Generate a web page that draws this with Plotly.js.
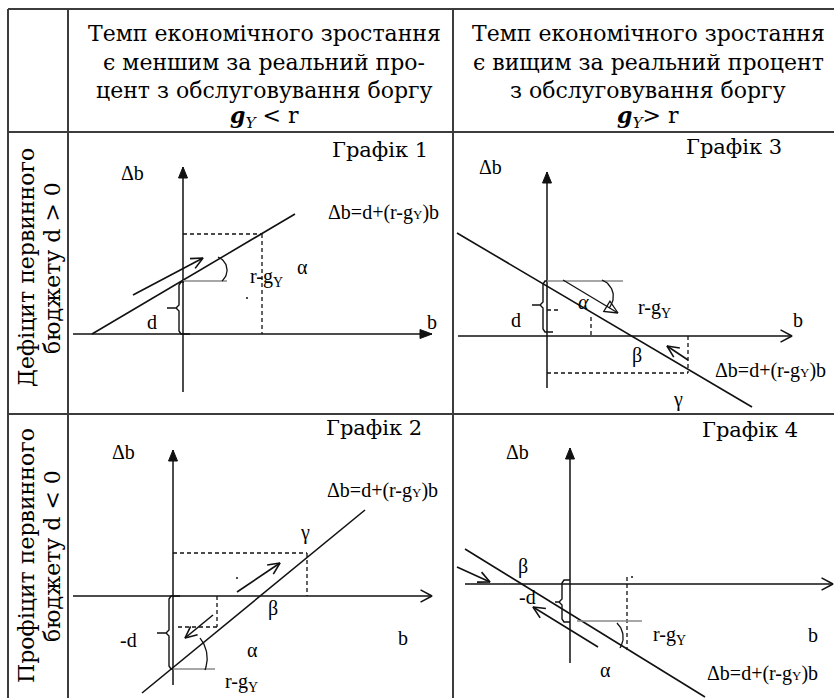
<!DOCTYPE html>
<html>
<head>
<meta charset="utf-8">
<script src="https://cdn.plot.ly/plotly-3.0.1.min.js"></script>
<style>
  html, body { margin: 0; padding: 0; background: #fff; }
  #chart { width: 834px; height: 698px; }
</style>
</head>
<body>
<div id="chart"></div>
<script>
// ---- Table grid ----
const tableRowsY = [9, 132, 414];
const tableColsX = [8, 68, 453];
const pageW = 834, pageH = 698;

// ---- Header text ----
const headerColX = [264, 648];
const headerLineY = [33, 62, 90, 117];
const headerSlow = [
  "Темп економічного зростання",
  "є меншим за реальний про-",
  "цент з обслуговування боргу",
  "<b><i>g</i></b><sub><i>Y</i></sub> &lt; r"
];
const headerFast = [
  "Темп економічного зростання",
  "є вищим за реальний процент",
  "з обслуговування боргу",
  "<b><i>g</i></b><sub><i>Y</i></sub>&gt; r"
];

// ---- Row captions (rotated, one entry per printed line) ----
const rowCaptionLines = ["Дефіцит первинного", "бюджету d &gt; 0", "Профіцит первинного", "бюджету d &lt; 0"];
const rowCaptionX = [26, 52, 26, 52];
const rowCaptionY = [268, 268, 556, 556];

// ---- Graph titles ----
const graphTitles = ["Графік 1", "Графік 3", "Графік 2", "Графік 4"];
const graphTitleX = [380, 734, 374, 750];
const graphTitleY = [150, 147, 428, 430];

// ---- Axes of the four graphs: [x0, y0, x1(tip), y1(tip)] ----
const axesVertical = [[183, 392, 183, 167], [547, 388, 547, 172], [173, 685, 173, 450], [570, 663, 570, 448]];
const axesHorizontal = [[73, 334, 432, 334], [458, 336, 792, 336], [73, 596, 432, 596], [465, 584, 833, 584]];
const horizontalHead = ["filled", "open", "open", "open"];

// ---- Δb = d + (r - gY) b lines ----
const debtLines = [[92, 334, 295, 214], [457, 233, 752, 407], [142, 693, 365, 510], [465, 549, 705, 697]];

// ---- Dashed guides ----
const dashedGuides = [
  [183, 234, 262, 234], [262, 234, 262, 334],
  [547, 310, 560, 310], [591, 317, 591, 336], [688, 336, 688, 373], [547, 373, 688, 373],
  [173, 553, 307, 553], [307, 553, 307, 596], [178, 627, 217, 627], [217, 596, 217, 627],
  [627, 577, 627, 650]
];

// ---- Grey horizontals at the intercept ----
const interceptRules = [[183, 281, 227, 281], [547, 281, 623, 281], [173, 669, 215, 669], [577, 621, 642, 621]];

// ---- Motion arrows: [tailX, tailY, tipX, tipY] ----
const motionArrows = [
  [133, 295, 203, 258],
  [688, 360, 667, 346],
  [237, 592, 280, 563], [213, 615, 185, 638],
  [457, 567, 490, 582], [598, 647, 533, 607]
];
const hollowArrows = [[563, 280, 618, 313]];

// ---- Angle arcs (three points on each arc) ----
const angleArcs = [
  [[218, 257], [227, 269], [222, 281]],
  [[602, 280], [613, 293], [609, 308]],
  [[200, 638], [207, 655], [205, 670]],
  [[617, 623], [623, 635], [620, 648]]
];

// ---- Braces: [x, yTop, yBottom, yTip, xTip, xTopEnd, xBottomEnd] ----
const braces = [
  [179, 282, 334, 308, 167, 184, 190],
  [543, 281, 332, 305, 532, 547, 553],
  [169, 596, 669, 633, 157, 180, 173],
  [562, 580, 622, 602, 555, 570, 570]
];

const dots = [[247, 298], [237, 578], [632, 577]];

// ---- Labels inside the graphs ----
const eq = "Δb=d+(r-g<span style='font-size:13px'>Y</span>)b";
const rg = "r-g<sub>Y</sub>";
const labelText = [
  "Δb", eq, rg, "α", "d", "b",
  "Δb", "<i>α</i>", rg, "d", "b", "β", eq, "γ",
  "Δb", eq, "γ", "β", "-d", "b", "α", rg,
  "Δb", "β", "-d", rg, "b", "α", eq
];
const labelX = [
  132, 383, 266, 302, 152, 432,
  490, 583, 654, 516, 798, 637, 770, 678,
  123, 382, 305, 273, 128, 403, 252, 241,
  517, 523, 527, 669, 813, 605, 762
];
const labelY = [
  173, 212, 277, 267, 322, 322,
  167, 302, 308, 320, 320, 355, 370, 399,
  452, 490, 532, 608, 640, 638, 650, 682,
  452, 566, 597, 635, 635, 670, 673
];

// ---------------- drawing helpers ----------------
const INK = "#111";
function linesTrace(polys, color, width, dash) {
  const x = [], y = [];
  polys.forEach(p => { p.forEach(q => { x.push(q[0]); y.push(q[1]); }); x.push(null); y.push(null); });
  return { type: "scatter", mode: "lines", x, y, hoverinfo: "skip",
           line: { color, width, dash: dash || "solid" } };
}
const segPoly = s => [[s[0], s[1]], [s[2], s[3]]];
function unit(s) {
  const dx = s[2] - s[0], dy = s[3] - s[1], L = Math.hypot(dx, dy);
  return [dx / L, dy / L];
}
function vHead(s, len, ang) {
  const [ux, uy] = unit(s), a = ang * Math.PI / 180;
  const rot = t => [ux * Math.cos(t) - uy * Math.sin(t), ux * Math.sin(t) + uy * Math.cos(t)];
  const l = rot(a), r = rot(-a);
  return [[s[2] - len * l[0], s[3] - len * l[1]], [s[2], s[3]], [s[2] - len * r[0], s[3] - len * r[1]]];
}
function triHead(s, len, half) {
  const [ux, uy] = unit(s);
  const bx = s[2] - len * ux, by = s[3] - len * uy;
  return [[s[2], s[3]], [bx - half * uy, by + half * ux], [bx + half * uy, by - half * ux], [s[2], s[3]]];
}
function arc3(a, b, c) {
  const [ax, ay] = a, [bx, by] = b, [cx, cy] = c;
  const d = 2 * (ax * (by - cy) + bx * (cy - ay) + cx * (ay - by));
  const ux = ((ax * ax + ay * ay) * (by - cy) + (bx * bx + by * by) * (cy - ay) + (cx * cx + cy * cy) * (ay - by)) / d;
  const uy = ((ax * ax + ay * ay) * (cx - bx) + (bx * bx + by * by) * (ax - cx) + (cx * cx + cy * cy) * (bx - ax)) / d;
  const r = Math.hypot(ax - ux, ay - uy);
  const T = 2 * Math.PI, norm = t => ((t % T) + T) % T;
  const t0 = Math.atan2(ay - uy, ax - ux), t1 = Math.atan2(by - uy, bx - ux), t2 = Math.atan2(cy - uy, cx - ux);
  const span02 = norm(t2 - t0), span01 = norm(t1 - t0);
  const span = span01 < span02 ? span02 : span02 - T;
  const pts = [];
  for (let i = 0; i <= 30; i++) { const t = t0 + span * i / 30; pts.push([ux + r * Math.cos(t), uy + r * Math.sin(t)]); }
  return pts;
}
function brace(b) {
  const [x, y0, y1, ym, xt, xe0, xe1] = b;
  return [[xe0, y0], [x + 2, y0], [x, y0 + 3], [x, ym - 3], [x - 3, ym], [xt, ym],
          [x - 3, ym], [x, ym + 3], [x, y1 - 3], [x + 2, y1], [xe1, y1]];
}

// ---------------- traces ----------------
const traces = [];

// table rules
const grid = [];
tableRowsY.forEach(y => grid.push([[tableColsX[0], y], [pageW, y]]));
tableColsX.forEach(x => grid.push([[x, tableRowsY[0]], [x, pageH]]));
traces.push(linesTrace(grid, "#3c3c3c", 2));

// axes
traces.push(linesTrace(axesVertical.concat(axesHorizontal).map(segPoly), INK, 1.5));
const filled = axesVertical.map(s => triHead(s, 11, 4.5))
  .concat(axesHorizontal.filter((s, i) => horizontalHead[i] === "filled").map(s => triHead(s, 12, 4.5)));
filled.forEach(p => traces.push({
  type: "scatter", mode: "lines", x: p.map(q => q[0]), y: p.map(q => q[1]),
  fill: "toself", fillcolor: INK, line: { color: INK, width: 1 }, hoverinfo: "skip"
}));
traces.push(linesTrace(axesHorizontal.filter((s, i) => horizontalHead[i] === "open").map(s => vHead(s, 13, 28)), INK, 1.5));

// economic lines
traces.push(linesTrace(debtLines.map(segPoly), INK, 1.6));
// guides
traces.push(linesTrace(dashedGuides.map(segPoly), INK, 1.3, "4px,3px"));
traces.push(linesTrace(interceptRules.map(segPoly), "#8a8a8a", 1.5));
// motion arrows
traces.push(linesTrace(motionArrows.map(segPoly).concat(motionArrows.map(s => vHead(s, 13, 25))), INK, 1.6));
traces.push(linesTrace(hollowArrows.map(segPoly).concat(hollowArrows.map(s => triHead(s, 13, 6))), INK, 1.3));
// arcs and braces
traces.push(linesTrace(angleArcs.map(a => arc3(a[0], a[1], a[2])), INK, 1.3));
traces.push(linesTrace(braces.map(brace), INK, 1.4));
// dots
traces.push({ type: "scatter", mode: "markers", x: dots.map(d => d[0]), y: dots.map(d => d[1]),
  marker: { size: 2, color: INK }, hoverinfo: "skip" });

// ---------------- annotations ----------------
const annotations = [];
const serif = "'DejaVu Serif', serif";
const times = "'Liberation Serif', 'Times New Roman', serif";
function note(x, y, text, family, size, extra) {
  annotations.push(Object.assign({ x, y, xref: "x", yref: "y", text, showarrow: false,
    xanchor: "center", yanchor: "middle", font: { family, size, color: "#000" } }, extra || {}));
}
headerSlow.forEach((t, i) => note(headerColX[0], headerLineY[i], t, serif, 22));
headerFast.forEach((t, i) => note(headerColX[1], headerLineY[i], t, serif, 22));
rowCaptionLines.forEach((t, i) => note(rowCaptionX[i], rowCaptionY[i], t, serif, 22, { textangle: -90 }));
graphTitles.forEach((t, i) => note(graphTitleX[i], graphTitleY[i], t, serif, 21));
labelText.forEach((t, i) => note(labelX[i], labelY[i], t, times, 20));

const layout = {
  width: pageW, height: pageH,
  margin: { l: 0, r: 0, t: 0, b: 0 },
  paper_bgcolor: "#fff", plot_bgcolor: "#fff",
  showlegend: false,
  xaxis: { range: [0, pageW], visible: false, fixedrange: true },
  yaxis: { range: [pageH, 0], visible: false, fixedrange: true },
  annotations
};
Plotly.newPlot("chart", traces, layout, { staticPlot: true, displayModeBar: false });
</script>
</body>
</html>
